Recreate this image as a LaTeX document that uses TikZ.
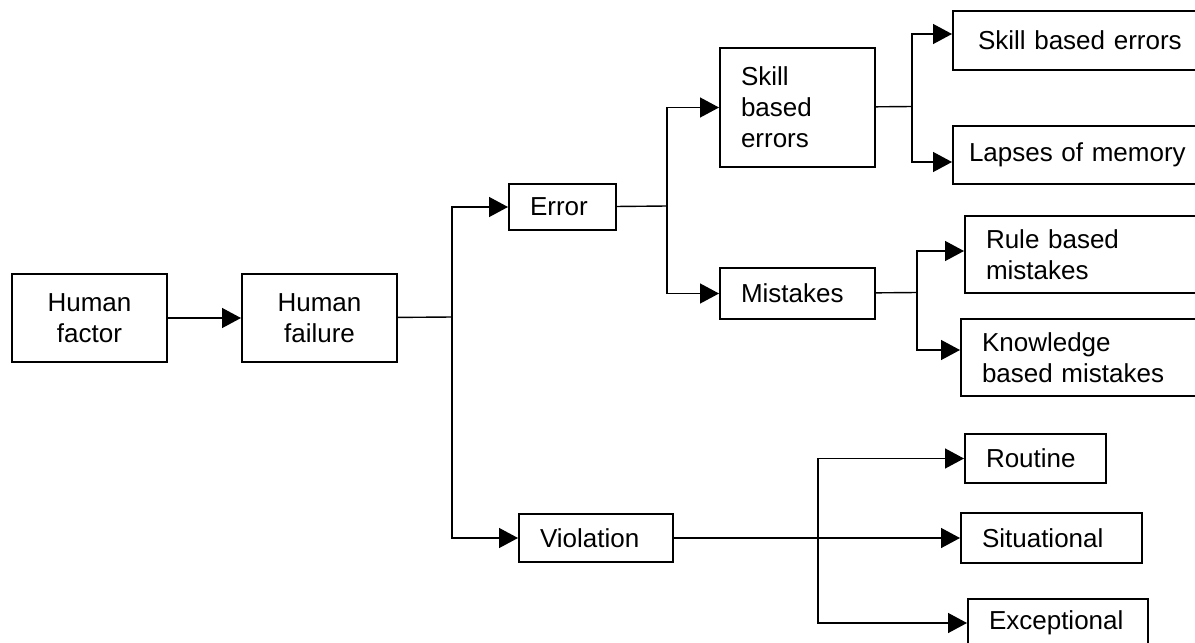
\documentclass[tikz,border=0pt]{standalone}
\usepackage{fontspec}
\setmainfont{Liberation Sans}
\usepackage{tikz}
\usetikzlibrary{arrows.meta}

\begin{document}
\begin{tikzpicture}[x=0.5pt, y=-0.5pt, >={Triangle[length=9.5pt, width=10pt]},
    boxnode/.style={draw=black, line width=1pt, rectangle, anchor=north west, align=left, inner xsep=10.5pt, inner ysep=0pt, font=\fontsize{13}{15.5}\selectfont},
    arrowline/.style={->, line width=0.7pt},
    plainline/.style={line width=0.7pt}]
        \path[use as bounding box] (0,0) rectangle (1195,643);
        \clip (0,0) rectangle (1195,643);

        % Nodes
        \node[boxnode, align=center, text width=56.5pt, minimum height=44pt] (HF) at (11,273) {Human\\factor};
        \node[boxnode, align=center, text width=56.5pt, minimum height=44pt] (HFail) at (241,273) {Human\\failure};
        \node[boxnode, text width=32.5pt, minimum height=23pt] (Err) at (508,183) {Error};
        \node[boxnode, text width=56pt, minimum height=24pt] (Viol) at (518,513) {Violation};
        \node[boxnode, text width=56.5pt, minimum height=59.5pt] (Skill) at (719,47) {Skill\\based\\errors};
        \node[boxnode, text width=56.5pt, minimum height=25.5pt] (Mist) at (719,267) {Mistakes};
        \node[boxnode, inner xsep=12.5pt, text width=115pt, minimum height=29.5pt] (SBE) at (952,10) {Skill based errors};
        \node[boxnode, inner xsep=8pt, text width=115pt, minimum height=29pt] (Lap) at (952,125) {Lapses of memory};
        \node[boxnode, text width=115pt, minimum height=38.5pt] (Rule) at (964,215) {Rule based\\mistakes};
        \node[boxnode, text width=115pt, minimum height=38.5pt] (Know) at (960,318) {Knowledge\\based mistakes};
        \node[boxnode, text width=49.5pt, minimum height=24.5pt] (Rout) at (964,433) {Routine};
        \node[boxnode, text width=69.5pt, minimum height=25pt] (Sit) at (960,512) {Situational};
        \node[boxnode, text width=69pt, minimum height=24pt] (Exc) at (967,598) {Exceptional};

        % Junctions
        \coordinate (J1) at (452,317);
        \coordinate (J2) at (667,206);
        \coordinate (J3) at (912,106.5);
        \coordinate (J4) at (917,292.5);
        \coordinate (J5) at (818,537);

        % Edges
        \draw[arrowline] (HF) -- (HFail);
        \draw[plainline] (HFail) -- (J1);
        \draw[arrowline] (J1) |- (Err);
        \draw[arrowline] (J1) |- (Viol);
        \draw[plainline] (Err) -- (J2);
        \draw[arrowline] (J2) |- (Skill);
        \draw[arrowline] (J2) |- (Mist);
        \draw[plainline] (Skill) -- (J3);
        \draw[arrowline] (J3) |- ([yshift=3.25pt]SBE.west);
        \draw[arrowline] (J3) |- ([yshift=-3.5pt]Lap.west);
        \draw[plainline] (Mist) -- (J4);
        \draw[arrowline] (J4) |- ([yshift=1.75pt]Rule.west);
        \draw[arrowline] (J4) |- ([yshift=3.75pt]Know.west);
        \draw[arrowline] (Viol) -- (Sit);
        \draw[arrowline] (J5) |- (Rout);
        \draw[arrowline] (J5) |- (Exc);
    \end{tikzpicture}
\end{document}
